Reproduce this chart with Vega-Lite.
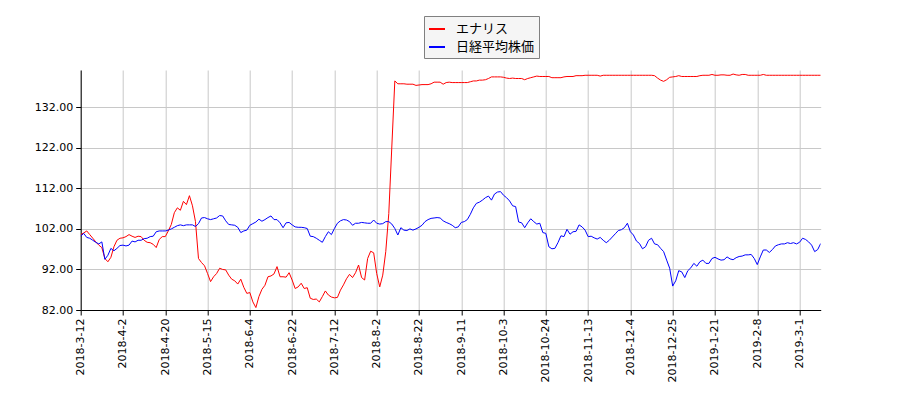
{
  "$schema": "https://vega.github.io/schema/vega-lite/v6.json",
  "width": 740,
  "height": 240,
  "autosize": {"type": "none"},
  "padding": {"left": 80.7, "top": 70, "right": 79.3, "bottom": 90},
  "background": "white",
  "config": {
    "view": {"stroke": null},
    "axis": {
      "labelFont": "DejaVu Sans",
      "labelFontSize": 11,
      "labelColor": "black",
      "domainColor": "black",
      "tickColor": "black",
      "tickSize": 5,
      "gridColor": "#c8c8c8",
      "gridWidth": 1,
      "labelPadding": 3
    },
    "legend": {
      "labelFont": "Noto Sans CJK JP",
      "labelFontSize": 13,
      "labelColor": "black"
    }
  },
  "data": {
    "values": [
      {"i":0,"エナリス":100.6,"日経平均株価":100.2},
      {"i":1,"エナリス":101.0,"日経平均株価":100.9},
      {"i":2,"エナリス":101.5,"日経平均株価":99.9},
      {"i":3,"エナリス":100.6,"日経平均株価":99.7},
      {"i":4,"エナリス":99.7,"日経平均株価":99.2},
      {"i":5,"エナリス":98.8,"日経平均株価":98.7},
      {"i":6,"エナリス":98.0,"日経平均株価":98.3},
      {"i":7,"エナリス":97.4,"日経平均株価":98.8},
      {"i":8,"エナリス":94.7,"日経平均株価":94.5},
      {"i":9,"エナリス":93.9,"日経平均株価":95.5},
      {"i":10,"エナリス":95.0,"日経平均株価":97.2},
      {"i":11,"エナリス":97.6,"日経平均株価":96.6},
      {"i":12,"エナリス":99.2,"日経平均株価":97.2},
      {"i":13,"エナリス":99.7,"日経平均株価":97.9},
      {"i":14,"エナリス":99.8,"日経平均株価":98.0},
      {"i":15,"エナリス":100.1,"日経平均株価":97.8},
      {"i":16,"エナリス":100.6,"日経平均株価":98.0},
      {"i":17,"エナリス":100.2,"日経平均株価":99.0},
      {"i":18,"エナリス":99.9,"日経平均株価":98.8},
      {"i":19,"エナリス":100.2,"日経平均株価":99.2},
      {"i":20,"エナリス":100.1,"日経平均株価":99.2},
      {"i":21,"エナリス":99.2,"日経平均株価":99.6},
      {"i":22,"エナリス":98.7,"日経平均株価":99.7},
      {"i":23,"エナリス":98.6,"日経平均株価":100.1},
      {"i":24,"エナリス":98.2,"日経平均株価":100.2},
      {"i":25,"エナリス":97.4,"日経平均株価":101.3},
      {"i":26,"エナリス":99.4,"日経平均株価":101.5},
      {"i":27,"エナリス":100.1,"日経平均株価":101.5},
      {"i":28,"エナリス":100.1,"日経平均株価":101.5},
      {"i":29,"エナリス":101.5,"日経平均株価":101.7},
      {"i":30,"エナリス":103.1,"日経平均株価":102.0},
      {"i":31,"エナリス":106.0,"日経平均株価":102.4},
      {"i":32,"エナリス":107.2,"日経平均株価":102.8},
      {"i":33,"エナリス":106.6,"日経平均株価":103.0},
      {"i":34,"エナリス":108.8,"日経平均株価":102.8},
      {"i":35,"エナリス":108.0,"日経平均株価":103.0},
      {"i":36,"エナリス":110.2,"日経平均株価":103.0},
      {"i":37,"エナリス":107.7,"日経平均株価":103.0},
      {"i":38,"エナリス":103.8,"日経平均株価":102.6},
      {"i":39,"エナリス":94.7,"日経平均株価":103.3},
      {"i":40,"エナリス":93.7,"日経平均株価":104.7},
      {"i":41,"エナリス":92.9,"日経平均株価":104.8},
      {"i":42,"エナリス":91.0,"日経平均株価":104.5},
      {"i":43,"エナリス":89.0,"日経平均株価":104.3},
      {"i":44,"エナリス":90.2,"日経平均株価":104.5},
      {"i":45,"エナリス":91.0,"日経平均株価":104.7},
      {"i":46,"エナリス":92.3,"日経平均株価":105.3},
      {"i":47,"エナリス":92.0,"日経平均株価":105.2},
      {"i":48,"エナリス":91.9,"日経平均株価":104.0},
      {"i":49,"エナリス":90.6,"日経平均株価":103.1},
      {"i":50,"エナリス":89.6,"日経平均株価":103.0},
      {"i":51,"エナリス":89.2,"日経平均株価":102.9},
      {"i":52,"エナリス":88.4,"日経平均株価":102.4},
      {"i":53,"エナリス":89.6,"日経平均株価":101.1},
      {"i":54,"エナリス":87.6,"日経平均株価":101.5},
      {"i":55,"エナリス":86.1,"日経平均株価":101.7},
      {"i":56,"エナリス":86.3,"日経平均株価":102.9},
      {"i":57,"エナリス":84.0,"日経平均株価":103.3},
      {"i":58,"エナリス":82.6,"日経平均株価":103.7},
      {"i":59,"エナリス":85.3,"日経平均株価":104.4},
      {"i":60,"エナリス":87.1,"日経平均株価":103.9},
      {"i":61,"エナリス":88.1,"日経平均株価":104.3},
      {"i":62,"エナリス":90.2,"日経平均株価":104.8},
      {"i":63,"エナリス":90.4,"日経平均株価":105.2},
      {"i":64,"エナリス":90.9,"日経平均株価":104.3},
      {"i":65,"エナリス":92.7,"日経平均株価":104.3},
      {"i":66,"エナリス":90.2,"日経平均株価":103.5},
      {"i":67,"エナリス":90.2,"日経平均株価":102.3},
      {"i":68,"エナリス":90.1,"日経平均株価":103.5},
      {"i":69,"エナリス":91.2,"日経平均株価":103.6},
      {"i":70,"エナリス":89.4,"日経平均株価":103.0},
      {"i":71,"エナリス":87.3,"日経平均株価":102.5},
      {"i":72,"エナリス":87.7,"日経平均株価":102.4},
      {"i":73,"エナリス":88.6,"日経平均株価":102.4},
      {"i":74,"エナリス":87.3,"日経平均株価":102.3},
      {"i":75,"エナリス":87.5,"日経平均株価":102.1},
      {"i":76,"エナリス":84.9,"日経平均株価":100.2},
      {"i":77,"エナリス":84.6,"日経平均株価":100.1},
      {"i":78,"エナリス":84.7,"日経平均株価":99.7},
      {"i":79,"エナリス":84.0,"日経平均株価":99.2},
      {"i":80,"エナリス":85.3,"日経平均株価":98.7},
      {"i":81,"エナリス":86.7,"日経平均株価":100.1},
      {"i":82,"エナリス":85.7,"日経平均株価":101.3},
      {"i":83,"エナリス":85.2,"日経平均株価":100.6},
      {"i":84,"エナリス":85.0,"日経平均株価":102.1},
      {"i":85,"エナリス":85.1,"日経平均株価":103.4},
      {"i":86,"エナリス":86.9,"日経平均株価":104.0},
      {"i":87,"エナリス":88.2,"日経平均株価":104.3},
      {"i":88,"エナリス":89.7,"日経平均株価":104.2},
      {"i":89,"エナリス":90.8,"日経平均株価":103.8},
      {"i":90,"エナリス":90.0,"日経平均株価":102.9},
      {"i":91,"エナリス":91.2,"日経平均株価":103.4},
      {"i":92,"エナリス":93.1,"日経平均株価":103.4},
      {"i":93,"エナリス":90.0,"日経平均株価":103.6},
      {"i":94,"エナリス":89.4,"日経平均株価":103.5},
      {"i":95,"エナリス":94.7,"日経平均株価":103.4},
      {"i":96,"エナリス":96.5,"日経平均株価":103.4},
      {"i":97,"エナリス":96.1,"日経平均株価":104.2},
      {"i":98,"エナリス":91.0,"日経平均株価":103.4},
      {"i":99,"エナリス":87.7,"日経平均株価":103.2},
      {"i":100,"エナリス":90.6,"日経平均株価":103.3},
      {"i":101,"エナリス":96.4,"日経平均株価":103.8},
      {"i":102,"エナリス":105.8,"日経平均株価":103.8},
      {"i":103,"エナリス":122.2,"日経平均株価":103.2},
      {"i":104,"エナリス":138.5,"日経平均株価":102.1},
      {"i":105,"エナリス":137.8,"日経平均株価":100.5},
      {"i":106,"エナリス":137.8,"日経平均株価":102.3},
      {"i":107,"エナリス":137.8,"日経平均株価":101.7},
      {"i":108,"エナリス":137.7,"日経平均株価":101.6},
      {"i":109,"エナリス":137.7,"日経平均株価":102.0},
      {"i":110,"エナリス":137.7,"日経平均株価":101.7},
      {"i":111,"エナリス":137.4,"日経平均株価":102.0},
      {"i":112,"エナリス":137.5,"日経平均株価":102.4},
      {"i":113,"エナリス":137.6,"日経平均株価":102.9},
      {"i":114,"エナリス":137.6,"日経平均株価":103.8},
      {"i":115,"エナリス":137.6,"日経平均株価":104.3},
      {"i":116,"エナリス":137.8,"日経平均株価":104.6},
      {"i":117,"エナリス":138.2,"日経平均株価":104.7},
      {"i":118,"エナリス":138.2,"日経平均株価":104.8},
      {"i":119,"エナリス":138.2,"日経平均株価":104.7},
      {"i":120,"エナリス":137.7,"日経平均株価":104.0},
      {"i":121,"エナリス":138.1,"日経平均株価":103.6},
      {"i":122,"エナリス":138.2,"日経平均株価":103.3},
      {"i":123,"エナリス":138.1,"日経平均株価":102.9},
      {"i":124,"エナリス":138.1,"日経平均株価":102.3},
      {"i":125,"エナリス":138.1,"日経平均株価":102.5},
      {"i":126,"エナリス":138.1,"日経平均株価":103.6},
      {"i":127,"エナリス":138.1,"日経平均株価":103.8},
      {"i":128,"エナリス":138.1,"日経平均株価":104.3},
      {"i":129,"エナリス":138.3,"日経平均株価":105.6},
      {"i":130,"エナリス":138.5,"日経平均株価":107.2},
      {"i":131,"エナリス":138.5,"日経平均株価":108.3},
      {"i":132,"エナリス":138.7,"日経平均株価":108.6},
      {"i":133,"エナリス":138.7,"日経平均株価":109.1},
      {"i":134,"エナリス":138.8,"日経平均株価":109.7},
      {"i":135,"エナリス":139.1,"日経平均株価":110.1},
      {"i":136,"エナリス":139.5,"日経平均株価":109.1},
      {"i":137,"エナリス":139.5,"日経平均株価":110.6},
      {"i":138,"エナリス":139.5,"日経平均株価":111.1},
      {"i":139,"エナリス":139.5,"日経平均株価":111.2},
      {"i":140,"エナリス":139.4,"日経平均株価":110.3},
      {"i":141,"エナリス":139.2,"日経平均株価":109.7},
      {"i":142,"エナリス":139.1,"日経平均株価":108.9},
      {"i":143,"エナリス":139.2,"日経平均株価":107.7},
      {"i":144,"エナリス":139.1,"日経平均株価":107.5},
      {"i":145,"エナリス":139.1,"日経平均株価":103.7},
      {"i":146,"エナリス":139.1,"日経平均株価":103.5},
      {"i":147,"エナリス":138.8,"日経平均株価":102.3},
      {"i":148,"エナリス":139.1,"日経平均株価":103.5},
      {"i":149,"エナリス":139.3,"日経平均株価":104.5},
      {"i":150,"エナリス":139.5,"日経平均株価":103.8},
      {"i":151,"エナリス":139.7,"日経平均株価":103.2},
      {"i":152,"エナリス":139.6,"日経平均株価":103.4},
      {"i":153,"エナリス":139.6,"日経平均株価":101.1},
      {"i":154,"エナリス":139.6,"日経平均株価":100.9},
      {"i":155,"エナリス":139.6,"日経平均株価":97.6},
      {"i":156,"エナリス":139.3,"日経平均株価":97.1},
      {"i":157,"エナリス":139.3,"日経平均株価":97.2},
      {"i":158,"エナリス":139.3,"日経平均株価":98.6},
      {"i":159,"エナリス":139.3,"日経平均株価":100.3},
      {"i":160,"エナリス":139.5,"日経平均株価":100.1},
      {"i":161,"エナリス":139.6,"日経平均株価":101.9},
      {"i":162,"エナリス":139.6,"日経平均株価":100.7},
      {"i":163,"エナリス":139.6,"日経平均株価":101.3},
      {"i":164,"エナリス":139.8,"日経平均株価":101.4},
      {"i":165,"エナリス":139.8,"日経平均株価":103.0},
      {"i":166,"エナリス":139.8,"日経平均株価":102.5},
      {"i":167,"エナリス":139.9,"日経平均株価":101.7},
      {"i":168,"エナリス":139.9,"日経平均株価":100.1},
      {"i":169,"エナリス":139.9,"日経平均株価":100.2},
      {"i":170,"エナリス":139.9,"日経平均株価":99.8},
      {"i":171,"エナリス":139.9,"日経平均株価":99.5},
      {"i":172,"エナリス":139.7,"日経平均株価":99.9},
      {"i":173,"エナリス":139.9,"日経平均株価":99.2},
      {"i":174,"エナリス":139.9,"日経平均株価":98.6},
      {"i":175,"エナリス":139.9,"日経平均株価":99.2},
      {"i":176,"エナリス":139.9,"日経平均株価":100.0},
      {"i":177,"エナリス":139.9,"日経平均株価":100.8},
      {"i":178,"エナリス":139.9,"日経平均株価":101.6},
      {"i":179,"エナリス":139.9,"日経平均株価":101.8},
      {"i":180,"エナリス":139.9,"日経平均株価":102.3},
      {"i":181,"エナリス":139.9,"日経平均株価":103.4},
      {"i":182,"エナリス":139.9,"日経平均株価":101.3},
      {"i":183,"エナリス":139.9,"日経平均株価":100.5},
      {"i":184,"エナリス":139.9,"日経平均株価":99.0},
      {"i":185,"エナリス":139.9,"日経平均株価":98.4},
      {"i":186,"エナリス":139.9,"日経平均株価":97.1},
      {"i":187,"エナリス":139.9,"日経平均株価":97.6},
      {"i":188,"エナリス":139.9,"日経平均株価":99.2},
      {"i":189,"エナリス":139.9,"日経平均株価":99.7},
      {"i":190,"エナリス":139.8,"日経平均株価":98.3},
      {"i":191,"エナリス":139.2,"日経平均株価":98.1},
      {"i":192,"エナリス":138.7,"日経平均株価":97.2},
      {"i":193,"エナリス":138.4,"日経平均株価":96.4},
      {"i":194,"エナリス":138.8,"日経平均株価":94.3},
      {"i":195,"エナリス":139.4,"日経平均株価":92.3},
      {"i":196,"エナリス":139.5,"日経平均株価":87.9},
      {"i":197,"エナリス":139.6,"日経平均株価":89.2},
      {"i":198,"エナリス":139.8,"日経平均株価":91.7},
      {"i":199,"エナリス":139.6,"日経平均株価":91.4},
      {"i":200,"エナリス":139.6,"日経平均株価":90.0},
      {"i":201,"エナリス":139.6,"日経平均株価":91.7},
      {"i":202,"エナリス":139.6,"日経平均株価":92.4},
      {"i":203,"エナリス":139.6,"日経平均株価":93.5},
      {"i":204,"エナリス":139.6,"日経平均株価":92.8},
      {"i":205,"エナリス":139.8,"日経平均株価":93.9},
      {"i":206,"エナリス":139.9,"日経平均株価":94.3},
      {"i":207,"エナリス":139.9,"日経平均株価":93.5},
      {"i":208,"エナリス":139.9,"日経平均株価":93.5},
      {"i":209,"エナリス":140.1,"日経平均株価":94.7},
      {"i":210,"エナリス":139.9,"日経平均株価":95.0},
      {"i":211,"エナリス":139.9,"日経平均株価":94.6},
      {"i":212,"エナリス":140.0,"日経平均株価":94.3},
      {"i":213,"エナリス":140.0,"日経平均株価":94.4},
      {"i":214,"エナリス":139.9,"日経平均株価":95.1},
      {"i":215,"エナリス":139.9,"日経平均株価":94.6},
      {"i":216,"エナリス":140.2,"日経平均株価":94.4},
      {"i":217,"エナリス":140.0,"日経平均株価":94.9},
      {"i":218,"エナリス":139.9,"日経平均株価":95.2},
      {"i":219,"エナリス":140.1,"日経平均株価":95.3},
      {"i":220,"エナリス":140.1,"日経平均株価":95.6},
      {"i":221,"エナリス":139.9,"日経平均株価":95.6},
      {"i":222,"エナリス":139.9,"日経平均株価":95.7},
      {"i":223,"エナリス":139.9,"日経平均株価":94.7},
      {"i":224,"エナリス":139.9,"日経平均株価":93.2},
      {"i":225,"エナリス":139.9,"日経平均株価":95.1},
      {"i":226,"エナリス":140.1,"日経平均株価":96.8},
      {"i":227,"エナリス":139.9,"日経平均株価":96.8},
      {"i":228,"エナリス":139.9,"日経平均株価":96.2},
      {"i":229,"エナリス":139.9,"日経平均株価":96.9},
      {"i":230,"エナリス":139.9,"日経平均株価":97.8},
      {"i":231,"エナリス":139.9,"日経平均株価":98.1},
      {"i":232,"エナリス":139.9,"日経平均株価":98.3},
      {"i":233,"エナリス":139.9,"日経平均株価":98.3},
      {"i":234,"エナリス":139.9,"日経平均株価":98.6},
      {"i":235,"エナリス":139.9,"日経平均株価":98.4},
      {"i":236,"エナリス":139.9,"日経平均株価":98.6},
      {"i":237,"エナリス":139.9,"日経平均株価":98.3},
      {"i":238,"エナリス":139.9,"日経平均株価":98.7},
      {"i":239,"エナリス":139.9,"日経平均株価":99.7},
      {"i":240,"エナリス":139.9,"日経平均株価":99.4},
      {"i":241,"エナリス":139.9,"日経平均株価":98.8},
      {"i":242,"エナリス":139.9,"日経平均株価":98.0},
      {"i":243,"エナリス":139.9,"日経平均株価":96.4},
      {"i":244,"エナリス":139.9,"日経平均株価":96.9},
      {"i":245,"エナリス":139.9,"日経平均株価":98.4}
    ]
  },
  "transform": [
    {"fold": ["エナリス", "日経平均株価"], "as": ["series", "value"]}
  ],
  "mark": {"type": "line", "strokeWidth": 1, "clip": true},
  "encoding": {
    "x": {
      "field": "i",
      "type": "quantitative",
      "scale": {"domain": [0, 245], "nice": false, "zero": false},
      "axis": {
        "title": null,
        "values": [0,14,28,42,56,70,84,98,112,126,140,154,168,182,196,210,224,238],
        "labelAngle": -90,
        "labelExpr": "['2018-3-12','2018-4-2','2018-4-20','2018-5-15','2018-6-4','2018-6-22','2018-7-12','2018-8-2','2018-8-22','2018-9-11','2018-10-3','2018-10-24','2018-11-13','2018-12-4','2018-12-25','2019-1-21','2019-2-8','2019-3-1'][round(datum.value / 14)]",
        "labelOverlap": false,
        "labelFlush": false
      }
    },
    "y": {
      "field": "value",
      "type": "quantitative",
      "scale": {"domain": [82, 141.2], "nice": false, "zero": false},
      "axis": {
        "title": null,
        "values": [82, 92, 102, 112, 122, 132],
        "format": ".2f",
        "labelFlush": false
      }
    },
    "color": {
      "field": "series",
      "type": "nominal",
      "scale": {"domain": ["エナリス", "日経平均株価"], "range": ["#ff0000", "#0000ff"]},
      "legend": {
        "title": null,
        "orient": "none",
        "legendX": 343.3,
        "legendY": -54,
        "symbolType": "stroke",
        "symbolSize": 256,
        "symbolStrokeWidth": 2,
        "labelOffset": 10,
        "strokeColor": "#808080",
        "fillColor": "#f5f5f5",
        "padding": 4,
        "rowPadding": 2,
        "cornerRadius": 0
      }
    }
  }
}
